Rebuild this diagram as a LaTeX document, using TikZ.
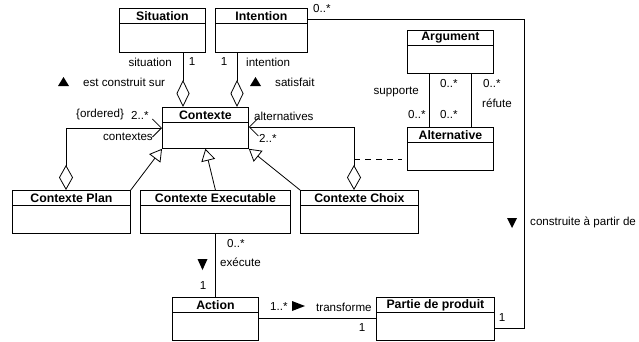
\documentclass[tikz,border=0pt]{standalone}
\usepackage{fontspec}
\setmainfont{Liberation Sans}
\usetikzlibrary{arrows.meta}

\newcommand\lblfont{\fontsize{11.6}{13}\selectfont}
\newcommand\clsfont{\fontsize{12.3}{14}\selectfont\bfseries}

% class box: name, left x, top y, width, height, title
\newcommand\umlclass[6]{%
  \node[classbox, minimum width=#4pt, minimum height=#5pt, anchor=north west] (#1) at (#2,#3) {};
  \draw[line] ([yshift=-15.5pt]#1.north west) -- ([yshift=-15.5pt]#1.north east);
  \node[classtitle] (#1-t) at ([yshift=-8pt]#1.north) {#6};
}

\begin{document}
\begin{tikzpicture}[x=1pt, y=-1pt,
  line/.style={line width=0.8pt, draw=black},
  classbox/.style={line, rectangle, inner sep=0pt, fill=white},
  classtitle/.style={font=\clsfont, inner sep=0pt, text=black},
  lbl/.style={font=\lblfont, inner sep=0pt, text=black},
  aggr/.style={line, -{Diamond[open, length=27pt, width=13pt]}},
  gen/.style={line, -{Triangle[open, length=12pt, width=14pt]}},
  navaggr/.style={line, {Diamond[open, length=25pt, width=14pt]}-{Straight Barb[length=9pt, width=18pt]}},
  dir/.style={fill=black}]

\fill[white] (0,0) rectangle (639,341);
\useasboundingbox (0,0) rectangle (639,341);

% classes
\umlclass{sit}{119}{8}{86}{44}{Situation}
\umlclass{int}{215}{8}{92}{44}{Intention}
\umlclass{ctx}{162}{107}{86}{41}{Contexte}
\umlclass{arg}{407}{30}{86}{43}{Argument}
\umlclass{alt}{407}{127}{86}{43}{Alternative}
\umlclass{plan}{12}{190}{118}{43}{Contexte Plan}
\umlclass{exec}{140}{190}{150}{43}{Contexte Executable}
\umlclass{choix}{300}{190}{118}{43}{Contexte Choix}
\umlclass{act}{172}{297}{86}{43}{Action}
\umlclass{part}{376}{297}{118}{43}{Partie de produit}

% aggregations towards Contexte
\draw[aggr] (sit.south -| 183,0) -- (ctx.north -| 183,0);
\draw[aggr] (int.south -| 237,0) -- (ctx.north -| 237,0);

% ordered and alternative sub-contexts
\draw[navaggr] (plan.north -| 66,0) -- (66,128) -- (ctx.west |- 0,128);
\draw[navaggr] (choix.north -| 354,0) -- (354,127) -- (ctx.east |- 0,127);
\draw[line, dashed, dash pattern=on 6pt off 5pt, shorten >=5pt] (354,159) -- (alt.west |- 0,159);

% specialisations
\draw[gen] (plan.north east) -- (ctx.south west);
\draw[gen] (exec.north) -- (ctx.south);
\draw[gen] (choix.north west) -- (ctx.south east);

% argument / alternative
\draw[line] (arg.south -| 429,0) -- (alt.north -| 429,0);
\draw[line] (arg.south -| 471,0) -- (alt.north -| 471,0);

% execution and transformation
\draw[line] (exec.south) -- (act.north);
\draw[line] (act.east |- 0,318) -- (part.west |- 0,318);
\draw[line] (int.east |- 0,19) -- (524,19) -- (524,328) -- (part.east |- 0,328);

% role names and multiplicities
\node[lbl, anchor=east] (l-sit) at (172,62) {situation};
\node[lbl] (m-sit) at (192,62) {1};
\node[lbl] (m-int) at (224,62) {1};
\node[lbl, anchor=west] (l-int) at (246,62) {intention};
\node[lbl, anchor=west] (l-ecs) at (83,82) {est construit sur};
\node[lbl, anchor=west] (l-sat) at (275,82) {satisfait};
\node[lbl, anchor=west] (m-top) at (313,9) {0..*};
\node[lbl, anchor=west] (l-ord) at (76,114) {\{ordered\}};
\node[lbl, anchor=west] (m-ord) at (131,115) {2..*};
\node[lbl, anchor=east] (l-ctxs) at (153,137) {contextes};
\node[lbl, anchor=west] (l-alts) at (254,116) {alternatives};
\node[lbl, anchor=west] (m-alts) at (259,138) {2..*};
\node[lbl, anchor=east] (l-sup) at (419,92) {supporte};
\node[lbl, anchor=west] (m-sup1) at (440,84) {0..*};
\node[lbl, anchor=west] (m-ref1) at (483,84) {0..*};
\node[lbl, anchor=west] (l-ref) at (482,103) {réfute};
\node[lbl, anchor=west] (m-sup2) at (408,115) {0..*};
\node[lbl, anchor=west] (m-ref2) at (440,115) {0..*};
\node[lbl, anchor=west] (m-exe) at (227,243) {0..*};
\node[lbl, anchor=west] (l-exe) at (220,262) {exécute};
\node[lbl] (m-act) at (203,286) {1};
\node[lbl, anchor=west] (m-tr) at (270,307) {1..*};
\node[lbl, anchor=west] (l-tr) at (316,307) {transforme};
\node[lbl] (m-tr2) at (362,328) {1};
\node[lbl] (m-cons) at (502,318) {1};
\node[lbl, anchor=west] (l-cons) at (530,222) {construite à partir de};

% reading-direction markers
\fill[dir] (58,86) -- (69,86) -- (63.5,77) -- cycle;
\fill[dir] (250,86) -- (261,86) -- (255.5,77) -- cycle;
\fill[dir] (197.5,259) -- (207.5,259) -- (202.5,270) -- cycle;
\fill[dir] (507,218) -- (517,218) -- (512,228) -- cycle;
\fill[dir] (292,301) -- (292,311) -- (305,306) -- cycle;

\end{tikzpicture}
\end{document}
